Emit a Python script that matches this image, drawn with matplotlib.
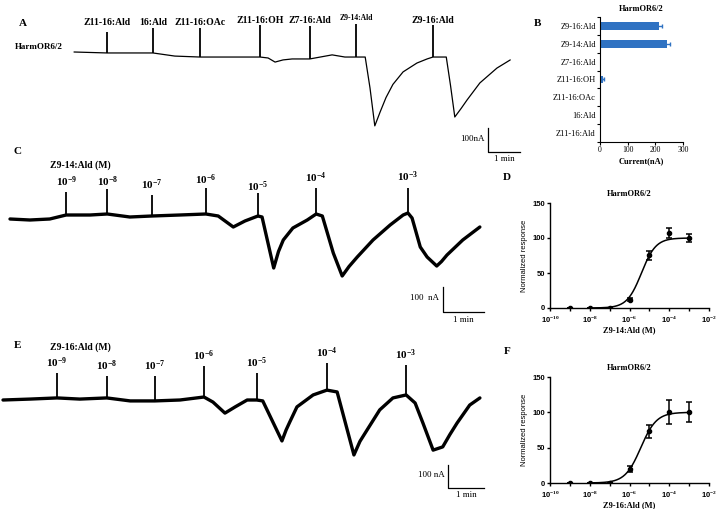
import numpy as np
import matplotlib
matplotlib.use("Agg")
import matplotlib.pyplot as plt

# --- DATA ---
# panel A trace (time in s, current in nA)
a_t = [0, 62, 105, 148, 189, 236, 292, 349, 364, 377, 392, 409, 442, 484, 508, 529, 546,
       555, 564, 574, 585, 598, 617, 643, 662, 673, 698, 706, 714, 726, 737, 761, 793, 818]
a_i = [0, -4, -4, -4, -17, -21, -21, -21, -25, -42, -33, -29, -29, -12, -21, -21, -21,
       -150, -308, -250, -190, -135, -83, -46, -29, -21, -21, -140, -271, -235, -200, -129, -67, -33]
a_names = ["Z11-16:Ald", "16:Ald", "Z11-16:OAc", "Z11-16:OH", "Z7-16:Ald", "Z9-14:Ald", "Z9-16:Ald"]
a_stim = [62, 148, 236, 349, 442, 529, 673]
a_top = [83, 100, 100, 113, 108, 117, 113]
a_lab = [121, 121, 121, 133, 133, 142, 133]

# panel B
b_labels = ["Z11-16:Ald", "16:Ald", "Z11-16:OAc", "Z11-16:OH", "Z7-16:Ald", "Z9-14:Ald", "Z9-16:Ald"]
b_vals = [0, 0, 0, 10, 0, 243, 214]
b_err = [0, 0, 0, 4, 0, 9, 10]

# panel C trace
c_t = [0, 29, 58, 82, 117, 142, 175, 207, 248, 286, 304, 326, 343, 362, 368, 385, 392, 399, 413,
       434, 447, 456, 472, 485, 495, 507, 530, 555, 574, 581, 587, 599, 609, 623, 630, 638, 661, 686]
c_i = [0, -4, 0, 16, 16, 20, 8, 12, 16, 20, 12, -32, -8, 12, 8, -196, -130, -84, -36,
       -4, 20, 12, -136, -228, -190, -152, -84, -24, 16, 24, 4, -112, -152, -188, -170, -144, -84, -32]
conc_labels = ["-9", "-8", "-7", "-6", "-5", "-4", "-3"]
c_stim = [82, 142, 207, 286, 362, 447, 581]
c_top = [108, 120, 96, 124, 104, 124, 124]
c_lab = [148, 148, 136, 156, 128, 164, 168]

# panel E trace
e_t = [0, 45, 90, 128, 173, 212, 253, 295, 335, 350, 370, 387, 407, 423, 433, 465, 472, 478, 490,
       517, 540, 557, 585, 595, 607, 628, 650, 672, 687, 700, 717, 733, 745, 757, 778, 795]
e_i = [0, 4, 9, 4, 9, -4, -4, 0, 13, -9, -57, -30, 0, 0, -4, -178, -130, -96, -30,
       22, 43, 35, -239, -180, -130, -43, 9, 22, -13, -100, -218, -204, -150, -100, -22, 9]
e_stim = [90, 173, 253, 335, 423, 540, 672]
e_top = [117, 104, 104, 148, 117, 161, 152]
e_lab = [161, 148, 148, 191, 161, 204, 196]

# panels D and F, dose response
conc = [1e-9, 1e-8, 1e-7, 1e-6, 1e-5, 1e-4, 1e-3]
d_resp = [0, 0, 0, 12, 75, 107, 100]
d_err = [0, 0, 0, 2, 7, 7, 6]
d_ec50, d_hill = 4e-6, 1.2
f_resp = [0, 0, 0, 20, 73, 100, 100]
f_err = [0, 0, 0, 4, 9, 17, 14]
f_ec50, f_hill = 3.7e-6, 1.1

W, H = 720, 509
SERIF = ["Liberation Serif", "DejaVu Serif"]
SANS = ["Liberation Sans", "DejaVu Sans"]

plt.rcParams["font.family"] = SERIF
plt.rcParams["mathtext.fontset"] = "custom"
plt.rcParams["mathtext.rm"] = "Liberation Serif"
plt.rcParams["mathtext.bf"] = "Liberation Serif:bold"

fig = plt.figure(figsize=(W / 100, H / 100), dpi=100)


def px_rect(x0, y0, x1, y1):
    return [x0 / W, 1 - y1 / H, (x1 - x0) / W, (y1 - y0) / H]


def ftext(x, y, s, **kw):
    # text placed at pixel position of the reference
    fig.text(x / W, 1 - y / H, s, **kw)


def trace_axes(box, origin, s_px, na_px):
    x0, y0, x1, y1 = box
    ox, oy = origin
    ax = fig.add_axes(px_rect(*box))
    ax.set_xlim((x0 - ox) * s_px, (x1 - ox) * s_px)
    ax.set_ylim(-(y1 - oy) * na_px, -(y0 - oy) * na_px)
    ax.axis("off")
    return ax


def draw_trace(ax, t, i, stim, tops, labs, names, lw, fs, bar_at, bar_txt):
    ax.plot(t, i, color="k", lw=lw, solid_joinstyle="round", solid_capstyle="round")
    base = np.interp(stim, t, i)
    ax.vlines(stim, base, tops, color="k", lw=1.3)
    for s, y, n, f in zip(stim, labs, names, fs):
        ax.text(s, y, n, ha="center", va="center", fontsize=f, fontweight="bold")
    # scale bar: 100 nA, 1 min
    bx, by = bar_at
    ax.plot([bx, bx, bx + 60], [by + 100, by, by], color="k", lw=0.9)
    ax.text(bx - 6, by + 55, bar_txt, ha="right", va="center", fontsize=6.5)
    ax.text(bx + 30, by - 30, "1 min", ha="center", va="center", fontsize=6.5)


def dose_panel(rect, resp, err, ec50, hill, xlabel):
    ax = fig.add_axes(px_rect(*rect))
    xs = np.logspace(-8, -3, 300)
    ax.plot(xs, 100 / (1 + (ec50 / xs) ** hill), color="k", lw=1.1)
    ax.errorbar(conc, resp, yerr=err, fmt="o", color="k", ms=3, lw=1.1,
                capsize=2.5, capthick=1.1)
    ax.set_xscale("log")
    ax.set_xlim(1e-10, 1e-2)
    ax.set_ylim(0, 150)
    ax.set_xticks([1e-10, 1e-8, 1e-6, 1e-4, 1e-2])
    ax.set_xticklabels([r"10$^{\mathbf{-10}}$", r"10$^{\mathbf{-8}}$", r"10$^{\mathbf{-6}}$",
                        r"10$^{\mathbf{-4}}$", r"10$^{\mathbf{-2}}$"])
    ax.set_xticks([1e-9, 1e-7, 1e-5, 1e-3], minor=True)
    ax.xaxis.set_minor_formatter(matplotlib.ticker.NullFormatter())
    ax.set_yticks([0, 50, 100, 150])
    for lab in ax.get_xticklabels() + ax.get_yticklabels():
        lab.set_family(SANS)
        lab.set_fontweight("bold")
        lab.set_fontsize(5.5)
    ax.tick_params(length=2.5, width=1.0, pad=1)
    ax.tick_params(which="minor", length=2.5, width=1.0)
    for sp in ["top", "right"]:
        ax.spines[sp].set_visible(False)
    for sp in ["left", "bottom"]:
        ax.spines[sp].set_linewidth(1.0)
    ax.set_title("HarmOR6/2", fontsize=6, fontweight="bold", pad=5)
    ax.set_xlabel(xlabel, fontsize=6, fontweight="bold", labelpad=1)
    ax.set_ylabel("Normalized response", fontsize=5.5, family=SANS, labelpad=3)
    return ax


def main():
    # A
    ax = trace_axes((0, 0, 560, 170), (74, 52), 1.875, 4.17)
    fsa = [7, 7, 7, 7, 7, 5.5, 7]
    draw_trace(ax, a_t, a_i, a_stim, a_top, a_lab, a_names, 0.9, fsa, (776, -417), "100nA")
    ftext(23, 24, "A", fontsize=8, fontweight="bold", ha="center", va="center")
    ftext(15, 47, "HarmOR6/2", fontsize=6.5, fontweight="bold", ha="left", va="center")

    # C
    names = [r"$\mathbf{10^{%s}}$" % c for c in conc_labels]
    ax = trace_axes((0, 170, 540, 340), (10, 219), 1.46, 4.0)
    draw_trace(ax, c_t, c_i, c_stim, c_top, c_lab, names, 2.4, [8] * 7, (632, -372), "100  nA")
    ftext(18, 152, "C", fontsize=8, fontweight="bold", ha="center", va="center")
    ftext(50, 165, "Z9-14:Ald (M)", fontsize=7, fontweight="bold", ha="left", va="center")

    # E
    ax = trace_axes((0, 330, 540, 509), (3, 400), 1.667, 4.35)
    draw_trace(ax, e_t, e_i, e_stim, e_top, e_lab, names, 2.4, [8] * 7, (742, -383), "100 nA")
    ftext(18, 345, "E", fontsize=8, fontweight="bold", ha="center", va="center")
    ftext(50, 347, "Z9-16:Ald (M)", fontsize=7, fontweight="bold", ha="left", va="center")

    # B
    ax = fig.add_axes(px_rect(600, 17, 683, 142))
    y = np.arange(len(b_labels))
    ax.barh(y, b_vals, height=0.42, color="#2F72C2")
    nz = [k for k in range(len(b_vals)) if b_vals[k] > 0]
    ax.errorbar([b_vals[k] for k in nz], [y[k] for k in nz], xerr=[b_err[k] for k in nz],
                fmt="none", ecolor="#2F72C2", lw=1.0, capsize=1.5)
    ax.set_yticks(y)
    ax.set_yticklabels(b_labels, fontsize=6)
    ax.set_yticks(np.arange(-0.5, len(b_labels)), minor=True)
    ax.tick_params(axis="y", which="major", length=0, pad=3)
    ax.tick_params(axis="y", which="minor", length=2, width=0.8)
    ax.tick_params(axis="x", length=2, width=0.8, labelsize=5.5, pad=1)
    ax.set_xlim(0, 300)
    ax.set_ylim(-0.5, len(b_labels) - 0.5)
    ax.set_xticks([0, 100, 200, 300])
    for sp in ["top", "right"]:
        ax.spines[sp].set_visible(False)
    ax.set_title("HarmOR6/2", fontsize=6, fontweight="bold", pad=4)
    ax.set_xlabel("Current(nA)", fontsize=6, fontweight="bold", labelpad=2)
    ftext(537, 24, "B", fontsize=8, fontweight="bold", ha="center", va="center")

    # D and F
    dose_panel((550, 203, 709, 308), d_resp, d_err, d_ec50, d_hill, "Z9-14:Ald (M)")
    ftext(507, 178, "D", fontsize=8, fontweight="bold", ha="center", va="center")
    dose_panel((550, 377, 709, 483), f_resp, f_err, f_ec50, f_hill, "Z9-16:Ald (M)")
    ftext(507, 352, "F", fontsize=8, fontweight="bold", ha="center", va="center")

    fig.savefig("out.png", dpi=100)


if __name__ == "__main__":
    main()
